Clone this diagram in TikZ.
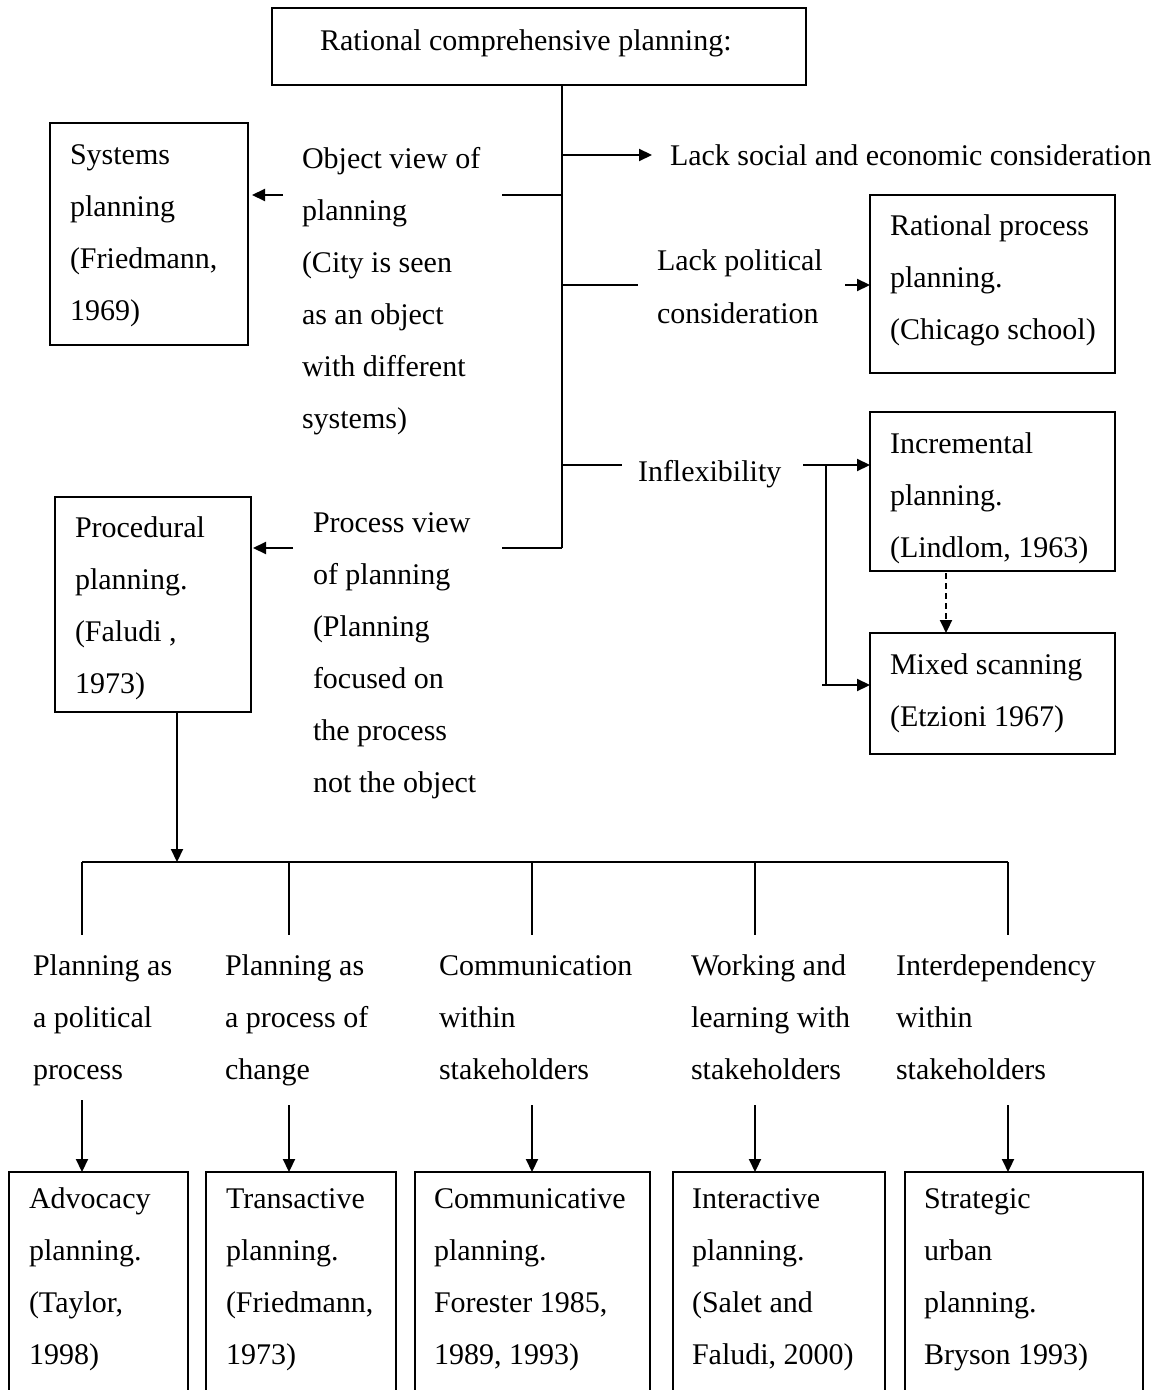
\documentclass[tikz,border=0pt]{standalone}
\usepackage{fontspec}
\setmainfont{Liberation Serif}
\usetikzlibrary{arrows.meta}
\newcommand\mlines[1]{\begin{tabular}[t]{@{}l@{}}#1\end{tabular}}
\begin{document}
\begin{tikzpicture}[x=0.5pt,y=-0.5pt,
  bxs/.style={draw, line width=0.7pt, inner sep=0pt, outer sep=0pt, anchor=north west},
  txt/.style={anchor=base west, inner sep=0pt, outer sep=0pt, font=\fontsize{15}{26}\selectfont},
  ln/.style={line width=1.05pt},
  arr/.style={line width=1.05pt, -{Triangle[length=6.5pt,width=6pt]}},
  dotarr/.style={line width=1.05pt, dash pattern=on 3pt off 2pt, -{Triangle[length=6.5pt,width=6pt]}}]
\clip (0,0) rectangle (1168,1390);
\fill[white] (0,0) rectangle (1168,1390);

% boxes
\node[bxs, minimum width=267pt, minimum height=38.5pt] (top) at (272,8) {};
\node[bxs, minimum width=99pt, minimum height=111pt] (sys) at (50,123) {};
\node[bxs, minimum width=122.5pt, minimum height=89pt] (rpp) at (870,195) {};
\node[bxs, minimum width=122.5pt, minimum height=79.5pt] (inc) at (870,412) {};
\node[bxs, minimum width=122.5pt, minimum height=60.5pt] (mix) at (870,633) {};
\node[bxs, minimum width=98pt, minimum height=107.5pt] (proc) at (55,497) {};
\node[bxs, minimum width=89.5pt, minimum height=114pt] (b1) at (9,1172) {};
\node[bxs, minimum width=95pt, minimum height=114pt] (b2) at (206,1172) {};
\node[bxs, minimum width=117.5pt, minimum height=114pt] (b3) at (415,1172) {};
\node[bxs, minimum width=106pt, minimum height=114pt] (b4) at (673,1172) {};
\node[bxs, minimum width=119pt, minimum height=114pt] (b5) at (905,1172) {};

% texts
\node[txt] (topT) at (320,51) {Rational comprehensive planning:};
\node[txt] (lsec) at (670,166) {Lack social and economic consideration};
\node[txt] (objT) at (302,169) {\mlines{Object view of\\planning\\(City is seen\\as an object\\with different\\systems)}};
\node[txt] (sysT) at (70,165) {\mlines{Systems\\planning\\(Friedmann,\\1969)}};
\node[txt] (lpc) at (657,271) {\mlines{Lack political\\consideration}};
\node[txt] (rppT) at (890,236) {\mlines{Rational process\\planning.\\(Chicago school)}};
\node[txt] (infl) at (638,481) {Inflexibility};
\node[txt] (incT) at (890,453) {\mlines{Incremental\\planning.\\(Lindlom, 1963)}};
\node[txt] (mixT) at (890,674) {\mlines{Mixed scanning\\(Etzioni 1967)}};
\node[txt] (pvT) at (313,532) {\mlines{Process view\\of planning\\(Planning\\focused on\\the process\\not the object}};
\node[txt] (procT) at (75,537) {\mlines{Procedural\\planning.\\(Faludi ,\\1973)}};

\node[txt] (l1) at (33,975) {\mlines{Planning as\\a political\\process}};
\node[txt] (l2) at (225,975) {\mlines{Planning as\\a process of\\change}};
\node[txt] (l3) at (439,975) {\mlines{Communication\\within\\stakeholders}};
\node[txt] (l4) at (691,975) {\mlines{Working and\\learning with\\stakeholders}};
\node[txt] (l5) at (896,975) {\mlines{Interdependency\\within\\stakeholders}};

\node[txt] (b1T) at (29,1208) {\mlines{Advocacy\\planning.\\(Taylor,\\1998)}};
\node[txt] (b2T) at (226,1208) {\mlines{Transactive\\planning.\\(Friedmann,\\1973)}};
\node[txt] (b3T) at (434,1208) {\mlines{Communicative\\planning.\\Forester 1985,\\1989, 1993)}};
\node[txt] (b4T) at (692,1208) {\mlines{Interactive\\planning.\\(Salet and\\Faludi, 2000)}};
\node[txt] (b5T) at (924,1208) {\mlines{Strategic\\urban\\planning.\\Bryson 1993)}};

% coordinates
\coordinate (tx) at (562,0);
\coordinate (tend) at (562,548);
\coordinate (j1) at (562,155);
\coordinate (j2) at (562,195);
\coordinate (o2) at (502,195);
\coordinate (oa) at (283,195);
\coordinate (j3) at (562,285);
\coordinate (l3e) at (638,285);
\coordinate (pa) at (845,285);
\coordinate (j4) at (562,465);
\coordinate (i4) at (622,465);
\coordinate (ia) at (803,465);
\coordinate (iv) at (826,465);
\coordinate (ivb) at (826,685);
\coordinate (ma) at (822,685);
\coordinate (dx) at (946,0);
\coordinate (p2) at (502,548);
\coordinate (pa2) at (293,548);
\coordinate (c177) at (177,0);
\coordinate (bar) at (177,862);
\coordinate (barL) at (82,862);
\coordinate (barR) at (1008,862);

% trunk
\draw[ln] (top.south -| tx) -- (tend);
\draw[arr] (j1) -- ([xshift=-9pt]lsec.west |- j1);
\draw[ln] (o2) -- (j2);
\draw[arr] (oa) -- ([xshift=2pt]sys.east |- oa);
\draw[ln] (j3) -- (l3e);
\draw[arr] (pa) -- (rpp.west |- pa);
\draw[ln] (j4) -- (i4);
\draw[arr] (ia) -- (inc.west |- ia);
\draw[ln] (iv) -- (ivb);
\draw[arr] (ma) -- (mix.west |- ma);
\draw[dotarr] ([yshift=-1pt]inc.south -| dx) -- (mix.north -| dx);
\draw[ln] (p2) -- (tend);
\draw[arr] (pa2) -- ([xshift=1pt]proc.east |- pa2);

% lower tree
\draw[arr] (proc.south -| c177) -- (bar);
\draw[ln] (barL) -- (barR);
\foreach \xx/\b/\ys in {82/b1/1100, 289/b2/1105, 532/b3/1105, 755/b4/1105, 1008/b5/1105}{
  \draw[ln] (\xx,862) -- (\xx,935);
  \draw[arr] (\xx,\ys) -- (\b.north -| \xx,\ys);
}
\end{tikzpicture}
\end{document}
